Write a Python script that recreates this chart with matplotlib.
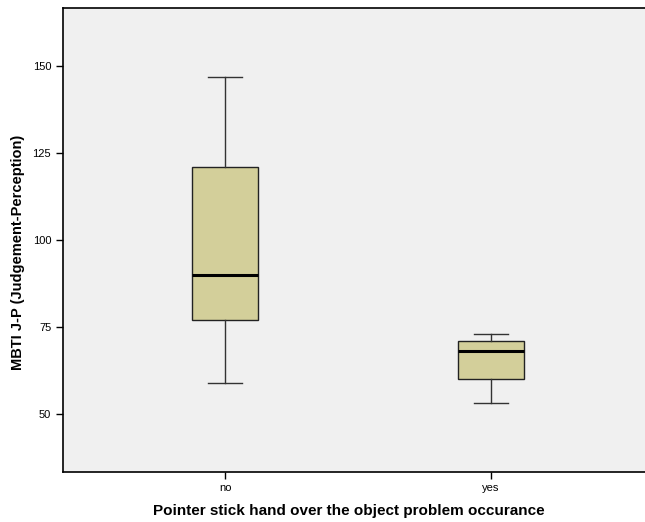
import matplotlib
matplotlib.use("Agg")
import matplotlib.pyplot as plt

# group labels and five-number summaries
groups = ["no", "yes"]
whisker_low = [59, 53]
q1 = [77, 60]
median = [90, 68]
q3 = [121, 71]
whisker_high = [147, 73]

plt.rcParams['font.family'] = ['Liberation Sans', 'DejaVu Sans']

fig = plt.figure(figsize=(6.45, 5.22), dpi=100)
ax = fig.add_axes([63/645, 1 - 472/522, 590/645, 464/522])
ax.set_facecolor('#f0f0f0')

stats = []
for i, g in enumerate(groups):
    stats.append(dict(label=g, whislo=whisker_low[i], q1=q1[i], med=median[i],
                      q3=q3[i], whishi=whisker_high[i], fliers=[]))

ax.bxp(stats, positions=[1, 2], widths=0.248, capwidths=0.128,
       patch_artist=True, showfliers=False,
       boxprops=dict(facecolor='#d3cf9a', edgecolor='#222222', linewidth=1.0),
       medianprops=dict(color='black', linewidth=2.2),
       whiskerprops=dict(color='#333333', linewidth=1.0),
       capprops=dict(color='#333333', linewidth=1.0))

ax.set_xlim(1 - 162/265.7, 2 + 162/265.7)
ax.set_ylim(33.3, 166.7)
ax.set_yticks([50, 75, 100, 125, 150])
ax.tick_params(axis='both', direction='out', length=5, width=1, labelsize=8, color='black')
ax.tick_params(axis='x', pad=3)

for s in ['left', 'bottom', 'top']:
    ax.spines[s].set_linewidth(1.2)
    ax.spines[s].set_color('black')
ax.spines['right'].set_visible(False)

ax.set_xlabel('Pointer stick hand over the object problem occurance', fontsize=11, fontweight='bold',
              ha='center', va='center')
ax.xaxis.set_label_coords(0.485, (472 - 511) / 464)
ax.set_ylabel('MBTI J-P (Judgement-Perception)', fontsize=10.5, fontweight='bold',
              ha='center', va='center')
ax.yaxis.set_label_coords((18 - 63) / 590, (472 - 252) / 464)

fig.savefig('out.png', dpi=100)
